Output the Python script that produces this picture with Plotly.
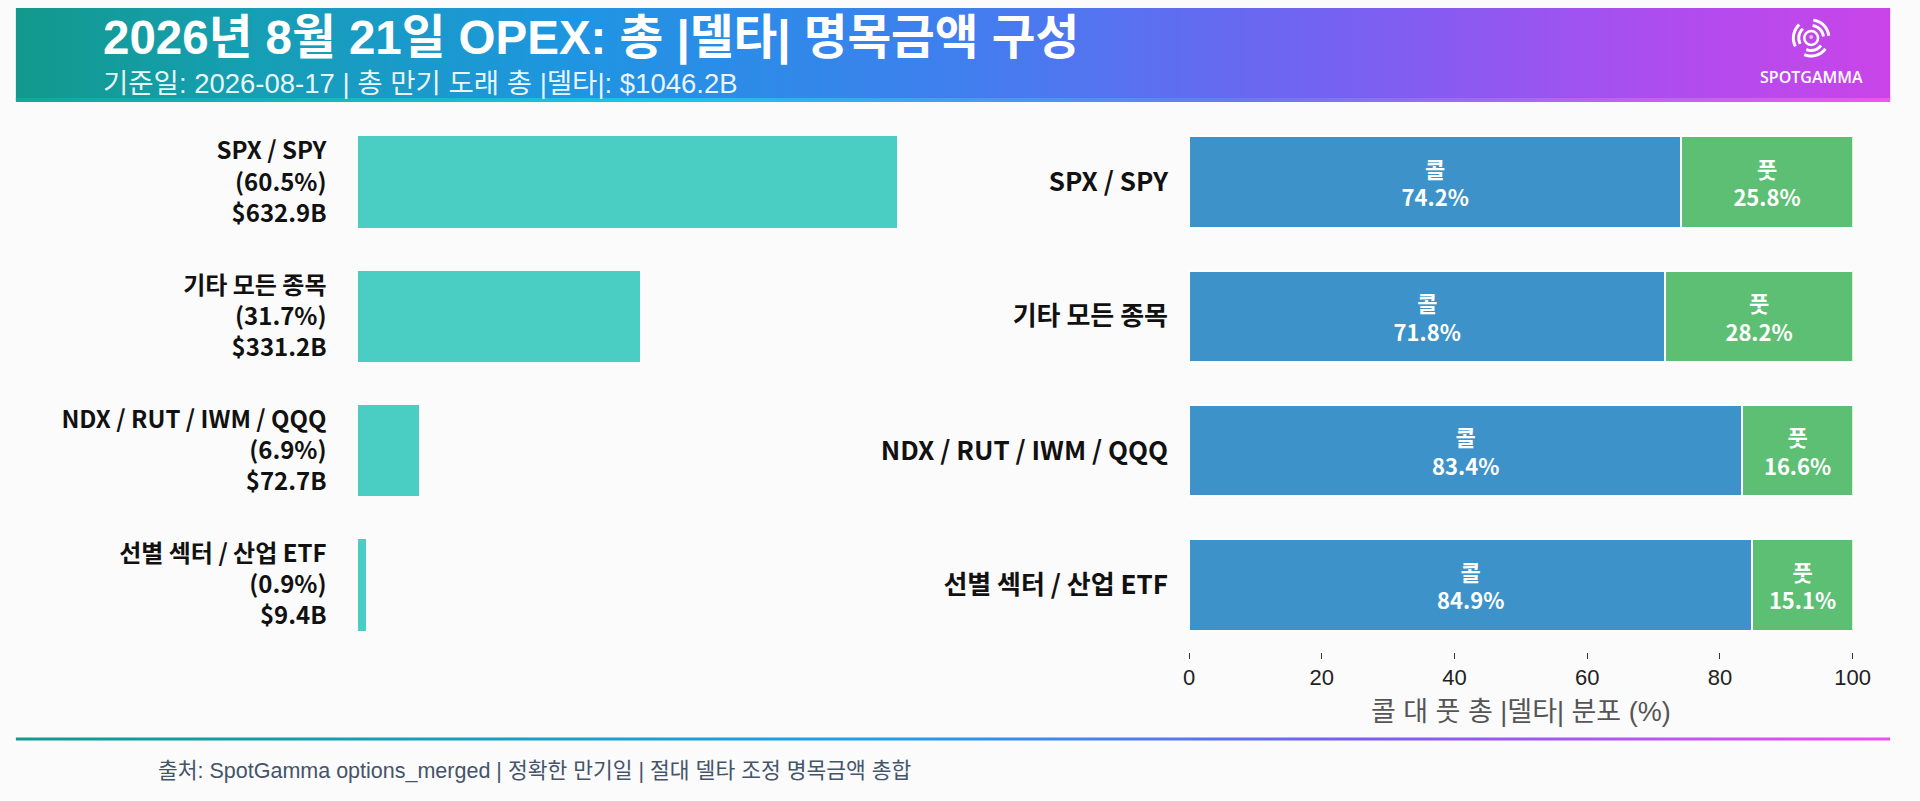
import plotly.graph_objects as go
import math

# data
categories = ["SPX / SPY", "기타 모든 종목", "NDX / RUT / IWM / QQQ", "선별 섹터 / 산업 ETF"]
notional_b = [632.9, 331.2, 72.7, 9.4]
share_pct = [60.5, 31.7, 6.9, 0.9]
call_pct = [74.2, 71.8, 83.4, 84.9]
put_pct = [25.8, 28.2, 16.6, 15.1]
pct_ticks = [0, 20, 40, 60, 80, 100]
total_b = 1046.2
opex_date = "2026년 8월 21일"
as_of = "2026-08-17"

W, H = 1920, 801
KFONT = "Noto Sans CJK KR"
AFONT = "Liberation Sans, Arial, Noto Sans CJK KR"

def px(x):
    return x / W

def py(y):
    return 1 - y / H

left_labels = [f"{c}<br>({s:.1f}%)<br>${v:.1f}B" for c, s, v in zip(categories, share_pct, notional_b)]

fig = go.Figure()

# left panel: share of total |delta| notional
fig.add_trace(go.Bar(
    y=categories, x=notional_b, orientation="h",
    marker=dict(color="#4acdc2", line=dict(width=0)),
    width=0.68, xaxis="x", yaxis="y", hoverinfo="skip",
))

# right panel: call vs put split
fig.add_trace(go.Bar(
    y=categories, x=call_pct, orientation="h", name="콜",
    marker=dict(color="#3d93c9", line=dict(color="white", width=2)),
    width=0.68, xaxis="x2", yaxis="y2",
    text=[f"콜<br>{v:.1f}%" for v in call_pct], textposition="inside",
    insidetextanchor="middle", textangle=0, constraintext="none",
    textfont=dict(color="white", size=22, family=KFONT, weight=700),
    hoverinfo="skip",
))
fig.add_trace(go.Bar(
    y=categories, x=put_pct, orientation="h", name="풋",
    marker=dict(color="#5dbf73", line=dict(color="white", width=2)),
    width=0.68, xaxis="x2", yaxis="y2",
    text=[f"풋<br>{v:.1f}%" for v in put_pct], textposition="inside",
    insidetextanchor="middle", textangle=0, constraintext="none",
    textfont=dict(color="white", size=22, family=KFONT, weight=700),
    hoverinfo="skip",
))

# header banner, stripes and divider on a pixel overlay axis
def band(x0, x1, y0, y1, scale):
    fig.add_trace(go.Scatter(
        x=[x0, x1, x1, x0, x0], y=[y0, y0, y1, y1, y0],
        mode="lines", fill="toself", line=dict(width=0),
        fillgradient=dict(type="horizontal", colorscale=scale),
        xaxis="x3", yaxis="y3", hoverinfo="skip",
    ))

band(10, 1908, 8, 100, [[0, "#12998c"], [0.12, "#159fb2"], [0.3, "#1f95e2"],
                        [0.5, "#3f7fee"], [0.7, "#7462f2"], [0.88, "#ae4def"], [1, "#c944e8"]])
band(10, 1908, 98, 102, [[0, "#12a89a"], [0.35, "#1cc4ee"], [0.65, "#6a78f5"], [1, "#f055f0"]])
band(10, 1908, 737.5, 740.5, [[0, "#0f9b8e"], [0.45, "#1aa3e8"], [0.72, "#7a5cf5"], [1, "#f04ff0"]])

# logo icon
cx, cy = 1828, 38
shapes = [dict(type="circle", xref="x3", yref="y3", x0=cx - 7, x1=cx + 7, y0=cy - 7, y1=cy + 7,
               line=dict(color="white", width=2.5), layer="above"),
          dict(type="circle", xref="x3", yref="y3", x0=cx - 2, x1=cx + 2, y0=cy - 3, y1=cy + 1,
               line=dict(width=0), fillcolor="rgba(255,255,255,0.6)", layer="above")]
for mid in (170, 45, 285):
    for r in (12.5, 18):
        pts = []
        for k in range(13):
            a = math.radians(mid - 38 + 76 * k / 12)
            pts.append(f"{cx + r * math.cos(a):.2f},{cy - r * math.sin(a):.2f}")
        shapes.append(dict(type="path", xref="x3", yref="y3", path="M" + " L".join(pts),
                           line=dict(color="white", width=3), layer="above"))

annotations = [
    dict(text=f"{opex_date} OPEX: 총 |델타| 명목금액 구성", x=96, y=38, xref="x3", yref="y3",
         xanchor="left", yanchor="middle", showarrow=False,
         font=dict(family=AFONT, size=47.5, color="white", weight=700)),
    dict(text=f"기준일: {as_of} | 총 만기 도래 총 |델타|: ${total_b:.1f}B", x=96, y=83,
         xref="x3", yref="y3", xanchor="left", yanchor="middle", showarrow=False,
         font=dict(family=AFONT, size=27.5, color="rgba(255,255,255,0.92)")),
    dict(text="SPOTGAMMA", x=1828, y=77, xref="x3", yref="y3", xanchor="center", yanchor="middle",
         showarrow=False, font=dict(family="Open Sans", size=16, color="white", weight=600)),
    dict(text="출처: SpotGamma options_merged | 정확한 만기일 | 절대 델타 조정 명목금액 총합",
         x=152, y=771, xref="x3", yref="y3", xanchor="left", yanchor="middle", showarrow=False,
         font=dict(family=AFONT, size=21.5, color="#44546a")),
]

y_dom = [py(652), py(115)]
left_max = max(notional_b) * 1.07

fig.update_layout(
    width=W, height=H,
    margin=dict(l=0, r=0, t=0, b=0),
    paper_bgcolor="#fbfbfb", plot_bgcolor="rgba(0,0,0,0)",
    barmode="stack", showlegend=False, hovermode=False,
    xaxis=dict(domain=[px(356), px(356 + 546 * 1.07)], range=[0, left_max], visible=False, anchor="y"),
    yaxis=dict(domain=y_dom, type="category", categoryorder="array", categoryarray=categories,
               autorange="reversed", tickvals=categories, ticktext=left_labels,
               ticklabelstandoff=30, showgrid=False, zeroline=False, showline=False, anchor="x",
               tickfont=dict(family=KFONT, size=24, color="#111111", weight=700)),
    xaxis2=dict(domain=[px(1198), px(1870)], range=[0, 100], anchor="y2",
                tickvals=pct_ticks, ticks="outside", ticklen=6, tickcolor="#333333",
                showgrid=False, zeroline=False, showline=False,
                tickfont=dict(family=AFONT, size=22, color="#222222"),
                title=dict(text="콜 대 풋 총 |델타| 분포 (%)", standoff=12,
                           font=dict(family=AFONT, size=27, color="#555555"))),
    yaxis2=dict(domain=y_dom, type="category", categoryorder="array", categoryarray=categories,
                autorange="reversed", anchor="x2", ticklabelstandoff=20,
                showgrid=False, zeroline=False, showline=False,
                tickfont=dict(family=KFONT, size=26, color="#111111", weight=700)),
    xaxis3=dict(domain=[0, 1], range=[0, W], visible=False, anchor="y3", fixedrange=True),
    yaxis3=dict(domain=[0, 1], range=[H, 0], visible=False, anchor="x3", fixedrange=True),
    shapes=shapes,
    annotations=annotations,
)

fig.write_html("out.html", config={"displayModeBar": False},
               post_script="document.body.style.margin='0';document.body.style.overflow='hidden';")
